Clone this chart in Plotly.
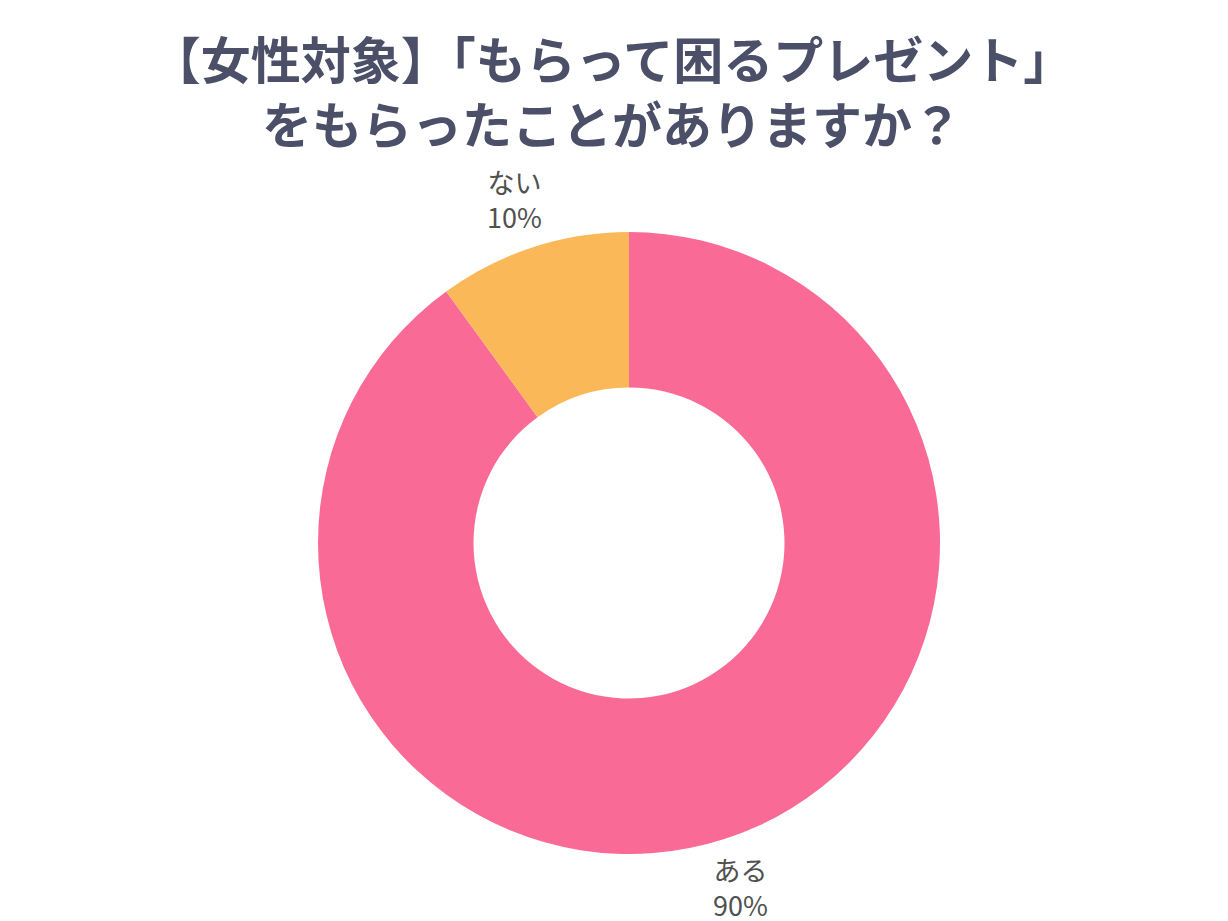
import plotly.graph_objects as go

labels = ["ある", "ない"]
values = [90, 10]
colors = ["#F96B96", "#FBB859"]
title_lines = ["【女性対象】「もらって困るプレゼント」", "をもらったことがありますか？"]

# label placement (paper coords of the plot area) for each slice
label_pos = [(0.5927, -0.0531), (0.4048, 1.0531)]

fig = go.Figure(go.Pie(
    labels=labels,
    values=values,
    hole=0.5,
    sort=False,
    direction="clockwise",
    rotation=0,
    marker=dict(colors=colors, line=dict(width=0)),
    textinfo="none",
    showlegend=False,
    hoverinfo="label+percent",
))

for lab, val, (ax, ay) in zip(labels, values, label_pos):
    fig.add_annotation(
        x=ax, y=ay, xref="paper", yref="paper",
        text=f"{lab}<br>{val}%",
        showarrow=False,
        xanchor="center", yanchor="middle",
        font=dict(size=27, color="#505050", family="Noto Sans CJK JP"),
    )

fig.update_layout(
    width=1220,
    height=913,
    margin=dict(l=22, r=0, t=224, b=67),
    paper_bgcolor="white",
    plot_bgcolor="white",
    title=dict(
        text="<br>".join(f"<b>{t}</b>" for t in title_lines),
        x=0.4951,
        xanchor="center",
        y=0.9222,
        yanchor="middle",
        yref="container",
        font=dict(size=50, color="#4B4F68", family="Noto Sans CJK JP"),
    ),
)

fig.write_html("out.html")
